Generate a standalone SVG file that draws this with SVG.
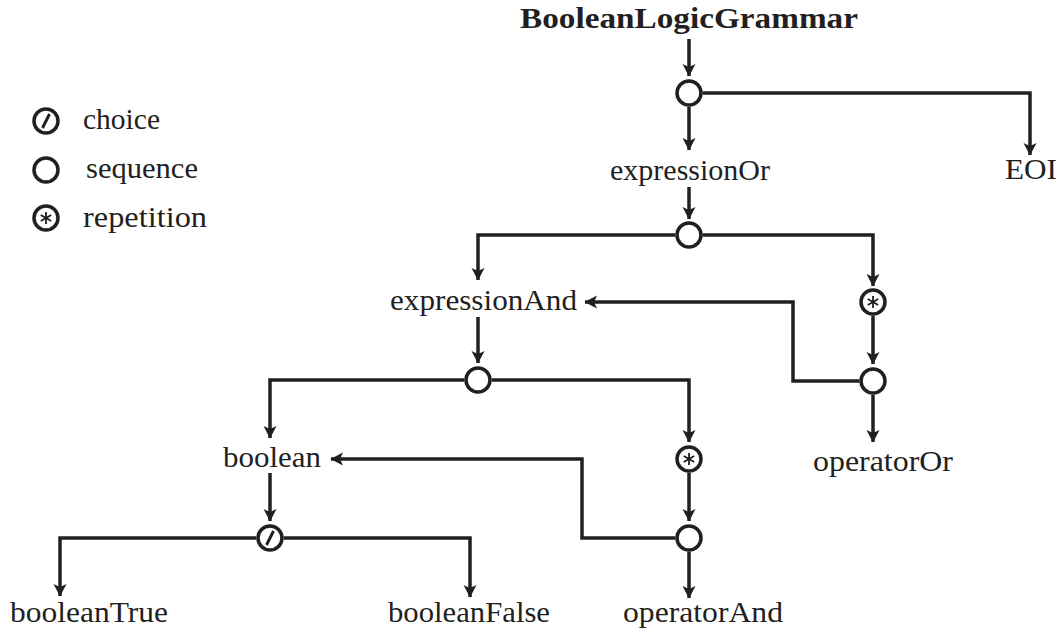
<svg xmlns="http://www.w3.org/2000/svg" width="1062" height="629" viewBox="0 0 1062 629">
  <style>
    .lbl { font-family: "Liberation Serif", "Times New Roman", serif; font-size: 29px; fill: #231f20; }
    .title { font-weight: bold; }
    .wire { fill: none; stroke: #231f20; stroke-width: 3.5; marker-end: url(#tip); }
    .op { fill: #ffffff; stroke: #231f20; stroke-width: 3.5; }
    .glyph { stroke: #231f20; fill: none; }
  </style>
  <defs>
    <marker id="tip" markerUnits="userSpaceOnUse" markerWidth="14" markerHeight="14" viewBox="0 0 13 14" refX="12" refY="7" orient="auto">
      <path d="M0,0.5 L12.5,7 L0,13.5 L3,7 Z" fill="#231f20"/>
    </marker>
    <g id="seq"><circle class="op" r="12"/></g>
    <g id="alt"><circle class="op" r="12"/><line class="glyph" x1="-3.5" y1="7" x2="3.5" y2="-7" stroke-width="3"/></g>
    <g id="rep"><circle class="op" r="12"/>
      <g class="glyph" stroke-width="1.8">
        <line x1="0" y1="-6" x2="0" y2="6"/>
        <line x1="-5.2" y1="-3" x2="5.2" y2="3"/>
        <line x1="-5.2" y1="3" x2="5.2" y2="-3"/>
      </g>
    </g>
  </defs>

  <!-- legend -->
  <g id="legend">
    <use href="#alt" x="46" y="121"/>
    <text class="lbl" x="83" y="129" textLength="77" lengthAdjust="spacingAndGlyphs">choice</text>
    <use href="#seq" x="46" y="170"/>
    <text class="lbl" x="86" y="178" textLength="112" lengthAdjust="spacingAndGlyphs">sequence</text>
    <use href="#rep" x="46" y="218"/>
    <text class="lbl" x="83" y="227" textLength="124" lengthAdjust="spacingAndGlyphs">repetition</text>
  </g>

  <!-- connectors -->
  <g id="connectors">
    <path class="wire" d="M689,39 V76"/>
    <path class="wire" d="M702.75,93 H1030 V155"/>
    <path class="wire" d="M689,106.75 V150"/>
    <path class="wire" d="M689,187 V219"/>
    <path class="wire" d="M675.25,235 H478 V280"/>
    <path class="wire" d="M702.75,235 H873 V286"/>
    <path class="wire" d="M873,315.75 V364"/>
    <path class="wire" d="M873,394.75 V442"/>
    <path class="wire" d="M859.25,381 H793 V302 H585"/>
    <path class="wire" d="M478,317 V363"/>
    <path class="wire" d="M464.25,380 H270 V438"/>
    <path class="wire" d="M491.75,380 H689 V442"/>
    <path class="wire" d="M689,472.75 V521"/>
    <path class="wire" d="M689,551.75 V598"/>
    <path class="wire" d="M675.25,538 H582 V459 H331"/>
    <path class="wire" d="M270,473 V521"/>
    <path class="wire" d="M256.25,538 H60 V596"/>
    <path class="wire" d="M283.75,538 H470 V597"/>
  </g>

  <!-- operator nodes -->
  <g id="seq-grammar"><use href="#seq" x="689" y="93"/></g>
  <g id="seq-or"><use href="#seq" x="689" y="235"/></g>
  <g id="rep-or"><use href="#rep" x="873" y="302"/></g>
  <g id="seq-or-tail"><use href="#seq" x="873" y="381"/></g>
  <g id="seq-and"><use href="#seq" x="478" y="380"/></g>
  <g id="rep-and"><use href="#rep" x="689" y="459"/></g>
  <g id="seq-and-tail"><use href="#seq" x="689" y="538"/></g>
  <g id="alt-boolean"><use href="#alt" x="270" y="538"/></g>

  <!-- rule nodes -->
  <g id="BooleanLogicGrammar"><text class="lbl title" x="689" y="28" text-anchor="middle" textLength="338" lengthAdjust="spacingAndGlyphs">BooleanLogicGrammar</text></g>
  <g id="expressionOr"><text class="lbl" x="690" y="180" text-anchor="middle" textLength="160" lengthAdjust="spacingAndGlyphs">expressionOr</text></g>
  <g id="EOI"><text class="lbl" x="1031" y="179" text-anchor="middle" textLength="52" lengthAdjust="spacingAndGlyphs">EOI</text></g>
  <g id="expressionAnd"><text class="lbl" x="483.5" y="310" text-anchor="middle" textLength="187" lengthAdjust="spacingAndGlyphs">expressionAnd</text></g>
  <g id="operatorOr"><text class="lbl" x="883" y="471" text-anchor="middle" textLength="140" lengthAdjust="spacingAndGlyphs">operatorOr</text></g>
  <g id="boolean"><text class="lbl" x="272" y="467" text-anchor="middle" textLength="98" lengthAdjust="spacingAndGlyphs">boolean</text></g>
  <g id="operatorAnd"><text class="lbl" x="703" y="622" text-anchor="middle" textLength="160" lengthAdjust="spacingAndGlyphs">operatorAnd</text></g>
  <g id="booleanTrue"><text class="lbl" x="89" y="622" text-anchor="middle" textLength="158" lengthAdjust="spacingAndGlyphs">booleanTrue</text></g>
  <g id="booleanFalse"><text class="lbl" x="469" y="622" text-anchor="middle" textLength="162" lengthAdjust="spacingAndGlyphs">booleanFalse</text></g>
</svg>
